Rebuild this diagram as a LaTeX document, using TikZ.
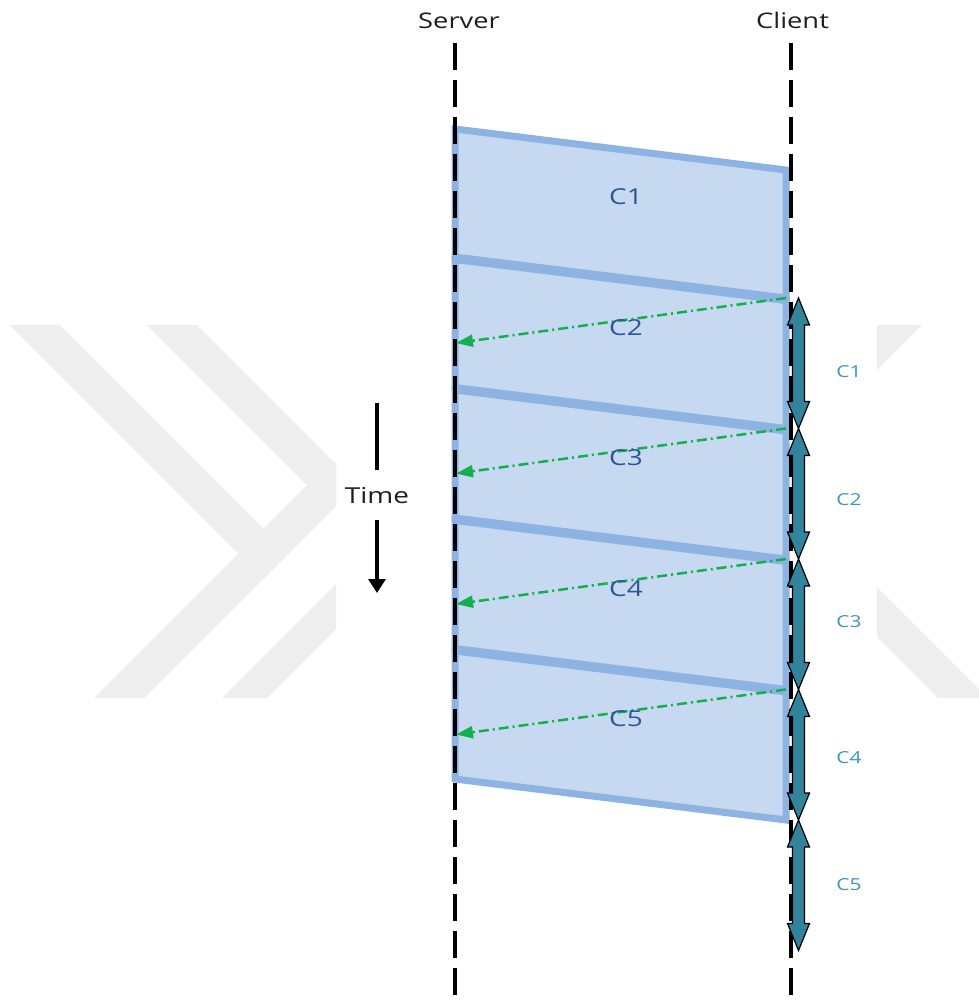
\documentclass[tikz,border=0pt]{standalone}
\usepackage{graphicx}
\usepackage{fontspec}
\setmainfont{Open Sans}
\usetikzlibrary{arrows.meta,calc}

\definecolor{inkdark}{RGB}{30,30,30}
\definecolor{boxfill}{RGB}{198,217,240}
\definecolor{boxedge}{RGB}{141,179,226}
\definecolor{labelblue}{RGB}{47,85,151}
\definecolor{ackgreen}{RGB}{20,176,80}
\definecolor{tealarrow}{RGB}{49,132,155}
\definecolor{teallabel}{RGB}{60,150,190}
\definecolor{wmgray}{RGB}{238,238,238}

% the lettering is set slightly widened
\newcommand\widetext[1]{\scalebox{1.27}[1]{#1}}

\begin{document}
\begin{tikzpicture}[x=1pt,y=-1pt,
  actor/.style={anchor=base,text=inkdark,font=\fontsize{21.5}{26}\selectfont,inner sep=0pt},
  lifeline/.style={draw=black,line width=4.5pt,dash pattern=on 27pt off 10pt},
  pkt/.style={draw=boxedge,fill=boxfill,line width=7pt,line join=miter},
  pktlabel/.style={anchor=base,text=labelblue,font=\fontsize{22}{26}\selectfont,inner sep=0pt},
  ackarrow/.style={draw=ackgreen,line width=2.5pt,dash pattern=on 10pt off 4pt on 2pt off 4pt,
    -{Triangle[length=17pt,width=12pt]}},
  slotarrow/.style={draw=black,fill=tealarrow,line width=1.2pt,line join=miter},
  slotlabel/.style={text=teallabel,font=\fontsize{16.5}{20}\selectfont,inner sep=0pt},
  timelabel/.style={anchor=base,text=inkdark,font=\fontsize{22}{26}\selectfont,inner xsep=0pt,inner ysep=17pt},
  timeline/.style={draw=black,line width=3.2pt}
]
\useasboundingbox (0,0) rectangle (979,1002);
\fill[white] (0,0) rectangle (979,1002);

% faint chevron watermark, left part
\begin{scope}
  \clip (0,325) rectangle (336,697);
  \fill[wmgray] (-157.5,157.5) -- (-132.5,132.5) -- (288.5,553.5) -- (263.5,578.5) -- cycle;
  \fill[wmgray] (-89,89) -- (-64,64) -- (357,485) -- (332,510) -- cycle;
  \fill[wmgray] (332,460) -- (357,485) -- (-329,1171) -- (-354,1146) -- cycle;
  \fill[wmgray] (710,210) -- (732.5,232.5) -- (-267.5,1232.5) -- (-290,1210) -- cycle;
\end{scope}
% faint chevron watermark, right part
\begin{scope}
  \clip (877,325) rectangle (979,697);
  \fill[wmgray] (1098.5,98.5) -- (1123.5,123.5) -- (123.5,1123.5) -- (98.5,1098.5) -- cycle;
  \fill[wmgray] (120,-120) -- (145,-145) -- (1395,1105) -- (1370,1130) -- cycle;
\end{scope}

% the five chunks in flight
\foreach \i in {0,...,4}{
  \pgfmathsetmacro\ty{129+130.5*\i}
  \draw[pkt] (455,\ty) -- (786,{\ty+41}) -- (786,{\ty+169}) -- (455,{\ty+128}) -- cycle;
}

% actors and their lifelines
\node[actor] (server) at (459,28) {\widetext{Server}};
\node[actor] (client) at (792.5,28) {\widetext{Client}};
\coordinate (servertop) at (455,43);
\coordinate (serverbot) at (455,1002);
\coordinate (clienttop) at (791,43);
\coordinate (clientbot) at (791,1002);
\draw[lifeline] (servertop) -- (serverbot);
\draw[lifeline] (clienttop) -- (clientbot);

% acknowledgements from the client back to the server
\foreach \i in {1,...,4}{
  \pgfmathsetmacro\tc{298+130.5*(\i-1)}
  \coordinate (cr\i) at (786,\tc);
  \coordinate (sa\i) at (456,{\tc+45});
  \draw[ackarrow] (cr\i) -- (sa\i);
}

% chunk names
\foreach \i in {1,...,5}{
  \pgfmathsetmacro\tl{129+130.5*(\i-1)+75.5}
  \node[pktlabel] (pkt\i) at (626,\tl) {\widetext{C\i}};
}

% playback intervals at the client
\foreach \i in {0,...,5}{
  \coordinate (ck\i) at (798.5,{298+130.5*\i});
}
\foreach \i/\j in {0/1,1/2,2/3,3/4,4/5}{
  \draw[slotarrow] (ck\i) -- ($(ck\i)+(11,27)$) -- ($(ck\i)+(6,27)$) -- ($(ck\j)+(6,-27)$)
    -- ($(ck\j)+(11,-27)$) -- (ck\j) -- ($(ck\j)+(-11,-27)$) -- ($(ck\j)+(-6,-27)$)
    -- ($(ck\i)+(-6,27)$) -- ($(ck\i)+(-11,27)$) -- cycle;
}
\node[slotlabel] (slot1) at (849,372) {\widetext{C1}};
\node[slotlabel] (slot2) at (849,500) {\widetext{C2}};
\node[slotlabel] (slot3) at (849,622) {\widetext{C3}};
\node[slotlabel] (slot4) at (849,758) {\widetext{C4}};
\node[slotlabel] (slot5) at (849,885) {\widetext{C5}};

% time axis
\node[timelabel] (time) at (377,503) {\widetext{Time}};
\coordinate (timetop) at (377,403);
\coordinate (timeend) at (377,593);
\draw[timeline] (timetop) -- (time.north);
\draw[timeline,-{Triangle[length=14pt,width=17pt]}] (time.south) -- (timeend);
\end{tikzpicture}
\end{document}
